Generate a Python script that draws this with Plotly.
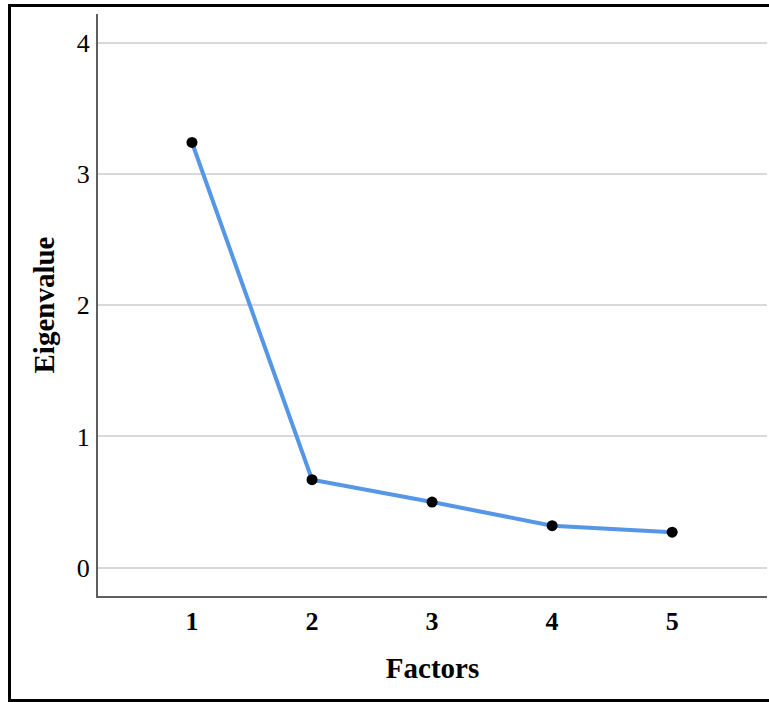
import plotly.graph_objects as go

# Scree plot data
factors = [1, 2, 3, 4, 5]
eigenvalues = [3.24, 0.67, 0.50, 0.32, 0.27]
y_ticks = [0, 1, 2, 3, 4]

W, H = 769, 702
ML, MR, MT, MB = 98, 2, 14, 106
pw, ph = W - ML - MR, H - MT - MB

fig = go.Figure()
fig.add_trace(go.Scatter(
    x=factors, y=eigenvalues, mode="lines+markers",
    line=dict(color="#5596E6", width=4),
    marker=dict(color="black", size=11),
    showlegend=False, cliponaxis=False,
))

serif = "Liberation Serif, Times New Roman, serif"

fig.update_layout(
    width=W, height=H,
    margin=dict(l=ML, r=MR, t=MT, b=MB),
    paper_bgcolor="white", plot_bgcolor="white",
    font=dict(family=serif, color="black"),
    xaxis=dict(
        range=[0.217, 5.79], tickvals=factors, ticktext=[str(f) for f in factors],
        showgrid=False, zeroline=False,
        showline=True, linecolor="#5f5f5f", linewidth=2,
        ticks="outside", ticklen=1, tickcolor="rgba(0,0,0,0)",
        tickfont=dict(family=serif, size=26, color="black", weight="bold"),
        title=dict(text="<b>Factors</b>", font=dict(family=serif, size=29, color="black"), standoff=22),
    ),
    yaxis=dict(
        range=[-0.216, 4.219], tickvals=y_ticks, ticktext=[str(v) for v in y_ticks],
        showgrid=True, gridcolor="#d9d9d9", gridwidth=2, zeroline=False,
        showline=True, linecolor="#5f5f5f", linewidth=2,
        ticks="outside", ticklen=1, tickcolor="rgba(0,0,0,0)",
        tickfont=dict(family=serif, size=26, color="black"),
        title=dict(text="<b>Eigenvalue</b>", font=dict(family=serif, size=29, color="black"), standoff=14),
    ),
)

# outer frame around the chart
x0 = (9.5 - ML) / pw
x1 = (772 - ML) / pw
y1 = 1 + (MT - 5.5) / ph
y0 = -(700.5 - (MT + ph)) / ph
fig.add_shape(type="rect", xref="paper", yref="paper",
              x0=x0, x1=x1, y0=y0, y1=y1,
              line=dict(color="black", width=3), fillcolor="rgba(0,0,0,0)")

fig.write_html("out.html")
